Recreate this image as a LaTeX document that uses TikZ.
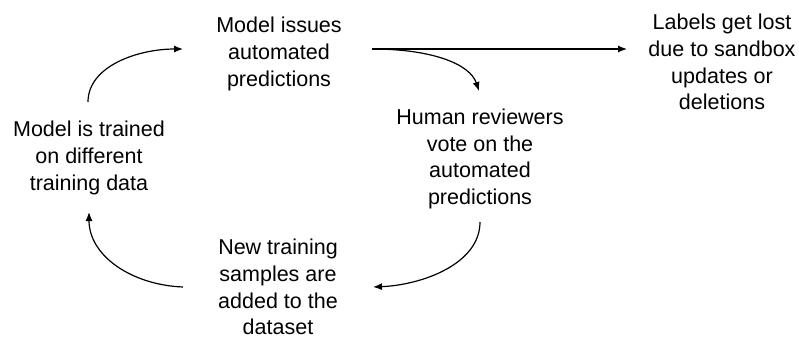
\documentclass[tikz,border=0pt]{standalone}
\usepackage{fontspec}
\setmainfont{Liberation Sans}
\usetikzlibrary{arrows.meta}
\begin{document}
\begin{tikzpicture}[x=1pt,y=-1pt,
  label text/.style={align=center,inner sep=0pt,font=\fontsize{21.5}{26.7}\selectfont},
  flow/.style={line width=1.2pt,-{Latex[length=9pt,width=7pt]}}]
\useasboundingbox (0,0) rectangle (799,338);

% the cycle and its side branch
\node[label text] (issue) at (279,54) {Model issues\\automated\\predictions};
\node[label text] (lost) at (722,62) {Labels get lost\\due to sandbox\\updates or\\deletions};
\node[label text] (vote) at (480,159) {Human reviewers\\vote on the\\automated\\predictions};
\node[label text] (add) at (278,287) {New training\\samples are\\added to the\\dataset};
\node[label text] (train) at (89,158) {Model is trained\\on different\\training data};

% arrow ends beside the texts
\coordinate (trainTop) at (88,102);
\coordinate (issueIn) at (183,49);
\coordinate (issueOut) at (372,49);
\coordinate (lostIn) at (627,49);
\coordinate (voteIn) at (479,91);
\coordinate (voteOut) at (480,222);
\coordinate (addIn) at (373,287);
\coordinate (addOut) at (183,287);
\coordinate (trainIn) at (89,212);

\draw[flow] (trainTop) .. controls (88,66) and (138,49) .. (issueIn);
\draw[flow] (issueOut) -- (lostIn);
\draw[flow] (issueOut) .. controls (432,49) and (470,64) .. (voteIn);
\draw[flow] (voteOut) .. controls (480,264) and (422,285) .. (addIn);
\draw[flow] (addOut) .. controls (132,285) and (89,256) .. (trainIn);
\end{tikzpicture}
\end{document}
